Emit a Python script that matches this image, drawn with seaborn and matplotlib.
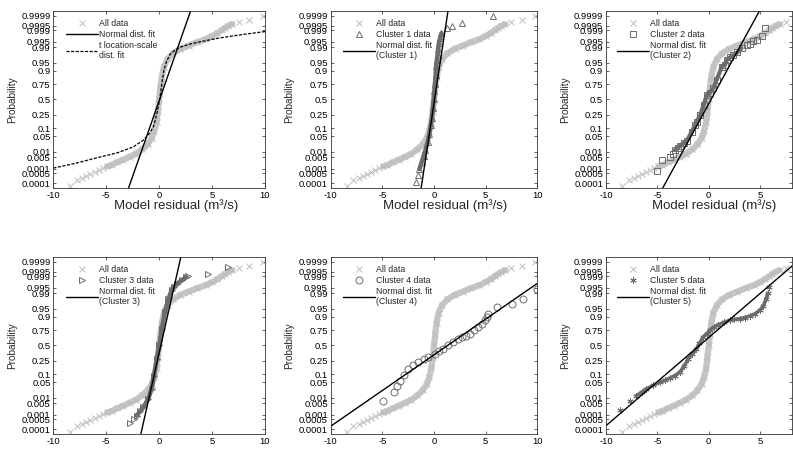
from statistics import NormalDist
import numpy as np
import matplotlib
matplotlib.use("Agg")
import matplotlib.pyplot as plt
from matplotlib.lines import Line2D
import seaborn as sns

# y axis of a normal probability plot
prob_ticks = [0.0001, 0.0005, 0.001, 0.005, 0.01, 0.05, 0.1, 0.25, 0.5,
              0.75, 0.9, 0.95, 0.99, 0.995, 0.999, 0.9995, 0.9999]
prob_labels = [str(p) for p in prob_ticks]

# all residuals
all_x = np.array([-8.45, -7.8, -7.3, -6.9, -6.5, -6.1, -5.7, -5.3, -4.9, -4.5,
                  -4.0, -3.4, -2.8, -2.2, -1.6, -1.1, -0.7, -0.45, -0.25, -0.12,
                  0.0, 0.12, 0.25, 0.45, 0.8, 1.3, 2.0, 2.8, 3.6, 4.4, 5.0,
                  5.5, 5.9, 6.2, 6.5, 6.9, 7.5, 8.5, 9.8])
all_p = np.array([0.000059, 0.00016, 0.00025, 0.00036, 0.00048, 0.00064, 0.00087, 0.0011, 0.00144, 0.00175,
                  0.00256, 0.00368, 0.0054, 0.0078, 0.0132, 0.0228, 0.0427, 0.0808, 0.1587, 0.3085,
                  0.5, 0.6915, 0.8413, 0.9265, 0.9641, 0.9798, 0.9878, 0.9918, 0.99461, 0.99632, 0.9976,
                  0.99841, 0.99896, 0.99926, 0.99946, 0.9996, 0.9997, 0.99981, 0.9999])

# t location-scale fit (panel 1)
t_x = np.array([-10, -8, -5.6, -4, -2.45, -1.5, -0.9, -0.55, -0.25, 0.05, 0.25,
                0.45, 0.7, 1.05, 1.5, 2.0, 3.0, 3.9, 5.5, 7.0, 8.5, 10])
t_p = np.array([0.00114, 0.00219, 0.00523, 0.00866, 0.01743, 0.0351, 0.0668, 0.1112, 0.242, 0.5, 0.758,
                0.9032, 0.9554, 0.9783, 0.9861, 0.9901, 0.99343, 0.99491, 0.99674, 0.99767, 0.99831, 0.99874])

# cluster residuals
c1_x = np.array([-1.74, -1.55, -1.4, -1.2, -1.0, -0.83, -0.6, -0.44, -0.3, -0.2, -0.1, -0.02,
                 0.05, 0.1, 0.16, 0.21, 0.28, 0.35, 0.41, 0.47, 0.6, 0.73, 1.28, 1.76, 2.73, 5.72])
c1_p = np.array([0.00013, 0.0004, 0.00097, 0.0026, 0.006, 0.012, 0.03, 0.064, 0.13, 0.21, 0.35, 0.5,
                 0.65, 0.76, 0.86, 0.93, 0.96, 0.977, 0.988, 0.9938, 0.997, 0.9984, 0.99924, 0.99946, 0.99969, 0.9999])

c2_x = np.array([-5.06, -4.58, -3.77, -3.5, -3.28, -3.0, -2.79, -2.45, -2.14, -1.66, -1.34, -1.17, -0.84,
                 -0.5, -0.19, 0.1, 0.45, 0.78, 1.27, 1.6, 1.75, 2.08, 2.4, 2.8, 3.2, 3.7, 4.03, 4.35,
                 4.68, 5.16, 5.49])
c2_p = np.array([0.00074, 0.0034, 0.0052, 0.008, 0.0122, 0.016, 0.0202, 0.026, 0.0322, 0.075, 0.125, 0.159,
                 0.24, 0.4, 0.575, 0.62, 0.69, 0.81, 0.928, 0.94, 0.961, 0.97, 0.976, 0.982, 0.9887, 0.9925,
                 0.993, 0.9955, 0.996, 0.9977, 0.9993])

c3_x = np.array([-2.8, -2.4, -2.13, -1.8, -1.5, -1.03, -0.71, -0.49, -0.24, 0.02, 0.24, 0.55, 0.87,
                 1.18, 1.4, 1.65, 2.13, 2.54, 2.76, 4.65, 6.5])
c3_p = np.array([0.00028, 0.00058, 0.0009, 0.0017, 0.003, 0.0087, 0.027, 0.09, 0.274, 0.5, 0.77, 0.932,
                 0.981, 0.993, 0.9955, 0.997, 0.9981, 0.99886, 0.99903, 0.99924, 0.99974])

c4_x = np.array([-4.94, -3.85, -3.6, -3.32, -2.9, -2.51, -2.0, -1.54, -1.0, -0.57, 0.08, 0.5, 0.89,
                 1.4, 1.86, 2.3, 2.67, 3.1, 3.48, 3.9, 4.3, 4.7, 4.94, 5.1, 5.27, 6.08, 7.54, 8.67, 9.97])
c4_p = np.array([0.0069, 0.0188, 0.035, 0.059, 0.095, 0.149, 0.19, 0.23, 0.27, 0.30, 0.356, 0.40, 0.44,
                 0.50, 0.56, 0.61, 0.644, 0.67, 0.70, 0.75, 0.794, 0.83, 0.869, 0.90, 0.921, 0.956, 0.968,
                 0.981, 0.9938])

c5_x = np.array([-8.6, -7.7, -7.05, -6.5, -6.07, -5.4, -4.77, -4.3, -3.8, -3.3, -2.82, -2.4, -2.0, -1.6,
                 -1.2, -0.9, -0.55, -0.2, 0.1, 0.5, 0.9, 1.5, 2.05, 2.5, 3.0, 3.5, 4.0, 4.5, 4.97, 5.3,
                 5.6, 5.75, 5.85])
c5_p = np.array([0.0021, 0.0069, 0.0129, 0.019, 0.0268, 0.038, 0.0505, 0.06, 0.072, 0.09, 0.117, 0.18,
                 0.274, 0.35, 0.44, 0.54, 0.644, 0.70, 0.749, 0.79, 0.821, 0.85, 0.869, 0.877, 0.883, 0.893,
                 0.905, 0.92, 0.941, 0.96, 0.981, 0.99, 0.9953])

# normal fits per panel (mean, std of the fitted line)
fit_mu = [0.04, 0.06, 0.23, 0.16, 1.31, -0.9]
fit_sigma = [0.744, 0.33, 1.195, 0.48, 3.15, 2.55]

cluster_x = [None, c1_x, c2_x, c3_x, c4_x, c5_x]
cluster_p = [None, c1_p, c2_p, c3_p, c4_p, c5_p]
cluster_marker = [None, "^", "s", ">", "o", (6, 2, 0)]
cluster_ms = [None, 4.5, 4.0, 4.5, 5.0, 4.5]
band_lw = [None, 3.2, 3.0, 3.2, 0, 2.5]
band_range = [None, (0.0009, 0.999), (0.01, 0.99), (0.0008, 0.999), (0, 0), (0.01, 0.99)]

# figure layout (pixels of the 793x450 picture)
W, H = 793, 450
lefts = [53.3, 330.7, 606.0]
widths = [211.7, 206.5, 185.9]
bottoms = [188.3, 434.3]
height = 177.6
xmax = [10, 10, 8.1, 10, 10, 8.1]
xlabel_x = [0.58, 0.555, 0.58]

light = "#c6c6c6"
light_mk = "#bdbdbd"
dark = "#6c6c6c"

sns.set_style("ticks")
plt.rcParams["font.family"] = ["Liberation Sans", "DejaVu Sans"]
plt.rcParams["axes.unicode_minus"] = False

_nd = NormalDist()
_ppf = np.vectorize(_nd.inv_cdf, otypes=[float])
_cdf = np.vectorize(_nd.cdf, otypes=[float])


def probit(p):
    return _ppf(np.clip(np.asarray(p, dtype=float), 1e-12, 1 - 1e-12))


def inv_probit(z):
    return _cdf(np.asarray(z, dtype=float))


def line(ax, x, y, **kw):
    sns.lineplot(x=x, y=y, ax=ax, sort=False, estimator=None, **kw)


fig = plt.figure(figsize=(W / 100, H / 100), dpi=100)

for i in range(6):
    row, col = divmod(i, 3)
    ax = fig.add_axes([lefts[col] / W, 1 - bottoms[row] / H, widths[col] / W, height / H])

    # all data: dense middle drawn as a thick band, every point as an x
    band = (all_p > 0.0012) & (all_p < 0.99965)
    line(ax, all_x[band], all_p[band], color=light, lw=4.5, solid_capstyle="round")
    line(ax, all_x, all_p, color=light_mk, marker="x", ms=4, mec=light_mk, mew=0.7, ls="")

    handles = [Line2D([], [], color=light_mk, marker="x", ls="", ms=4, mew=0.7)]
    labels = ["All data"]

    if i == 0:
        labels += ["Normal dist. fit", "t location-scale\ndist. fit"]
    else:
        cx, cp = cluster_x[i], cluster_p[i]
        lo, hi = band_range[i]
        if band_lw[i]:
            m = (cp >= lo) & (cp <= hi)
            line(ax, cx[m], cp[m], color=dark, lw=band_lw[i], solid_capstyle="round")
        line(ax, cx, cp, color=dark, marker=cluster_marker[i], ms=cluster_ms[i],
             mfc="none", mec=dark, mew=0.7, ls="")
        handles.append(Line2D([], [], color=dark, marker=cluster_marker[i], ls="",
                              ms=cluster_ms[i], mfc="none", mew=0.7))
        labels += [f"Cluster {i} data", f"Normal dist. fit\n(Cluster {i})"]

    # normal fit line
    zz = np.array([-4.5, 4.5])
    line(ax, fit_mu[i] + fit_sigma[i] * zz, inv_probit(zz), color="black", lw=1.0)
    handles.append(Line2D([], [], color="black", lw=1.0))

    if i == 0:
        line(ax, t_x, t_p, color="black", lw=0.9, ls=(0, (2.5, 1.2)))
        handles.append(Line2D([], [], color="black", lw=0.9, ls=(0, (2.5, 1.2))))

    ax.set_yscale("function", functions=(probit, inv_probit))
    ax.set_ylim(0.000039, 0.999961)
    ax.set_xlim(-10, xmax[i])
    ax.set_yticks(prob_ticks)
    ax.set_yticklabels(prob_labels)
    ax.minorticks_off()
    ax.set_xticks([t for t in [-10, -5, 0, 5, 10] if t <= xmax[i]])

    ax.tick_params(direction="in", length=2.5, width=0.5, top=True, right=True,
                   labelsize=6.8, pad=2, colors="#222222", labelcolor="black")
    for s in ax.spines.values():
        s.set_linewidth(0.6)
        s.set_color("#333333")

    ax.set_ylabel("Probability", fontsize=7.2, labelpad=3)
    if row == 0:
        ax.set_xlabel("Model residual (m³/s)", fontsize=9.5)
        ax.xaxis.set_label_coords(xlabel_x[col], -0.06, transform=ax.transAxes)
        ax.xaxis.label.set_va("top")
    else:
        ax.set_xlabel("")

    ax.legend(handles, labels, loc="upper left", bbox_to_anchor=(0.06, 0.952),
              frameon=False, fontsize=6.3, handlelength=3.6, handletextpad=0.2,
              labelspacing=0.2, borderpad=0, borderaxespad=0)

fig.savefig("out.png", dpi=100)
